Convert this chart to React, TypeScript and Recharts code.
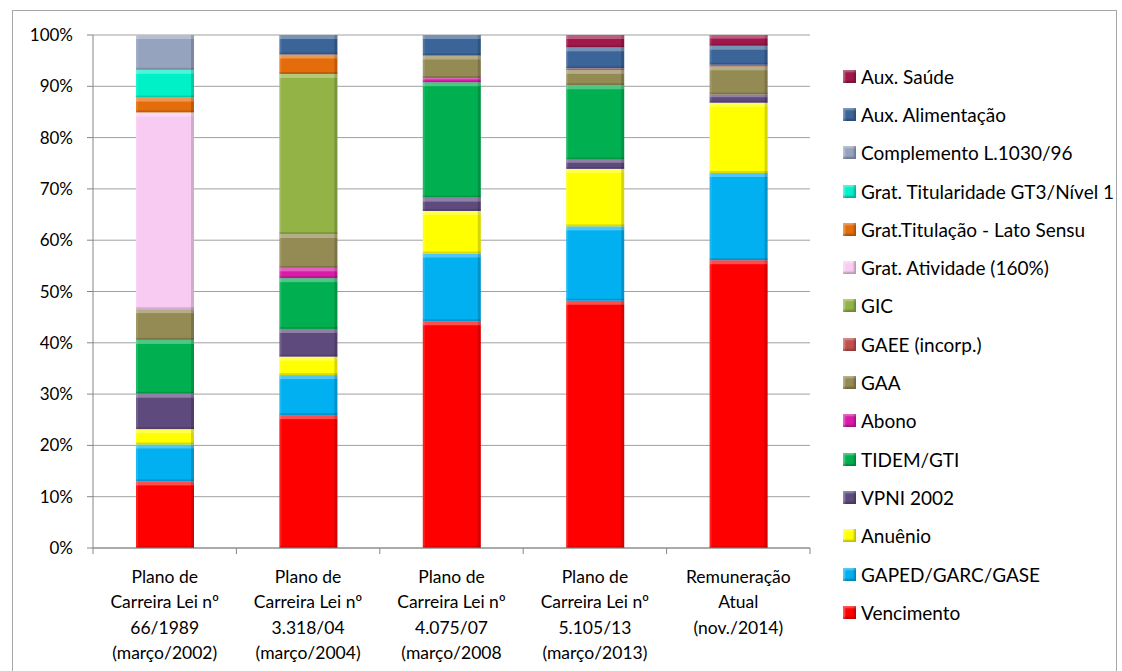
import React from 'react'
import { BarChart, Bar, XAxis, YAxis, CartesianGrid } from 'recharts'

// Categorias (cada linha do rótulo separada por \n)
const categorias = [
  'Plano de\nCarreira Lei nº\n66/1989\n(março/2002)',
  'Plano de\nCarreira Lei nº\n3.318/04\n(março/2004)',
  'Plano de\nCarreira Lei nº\n4.075/07\n(março/2008',
  'Plano de\nCarreira Lei nº\n5.105/13\n(março/2013)',
  'Remuneração\nAtual\n(nov./2014)',
]

// Participação (%) de cada verba na remuneração
const vencimento = [13.0, 25.9, 44.2, 48.2, 56.1]
const gaped = [7.2, 7.8, 13.2, 14.5, 17.0]
const anuenio = [3.0, 3.6, 8.3, 11.2, 13.7]
const vpni = [6.9, 5.4, 2.6, 1.8, 1.6]
const tidem = [10.5, 9.9, 22.5, 14.5, 0]
const abono = [0, 2.0, 0.8, 0, 0]
const gaa = [6.0, 6.6, 4.4, 3.0, 5.5]
const gaee = [0, 0, 0, 0.3, 0.3]
const gic = [0, 31.2, 0, 0, 0]
const gratAtividade = [38.4, 0, 0, 0, 0]
const gratTitulacao = [2.9, 3.8, 0, 0, 0]
const gratTitularidade = [5.4, 0, 0, 0, 0]
const complemento = [6.8, 0, 0, 0, 0]
const auxAlimentacao = [0, 3.8, 4.0, 4.1, 3.7]
const auxSaude = [0, 0, 0, 2.4, 2.1]

const yTicks = [0, 0.1, 0.2, 0.3, 0.4, 0.5, 0.6, 0.7, 0.8, 0.9, 1]

// ordem de empilhamento: de baixo para cima
const series = [
  { key: 'venc', nome: 'Vencimento', cor: '#FF0000', valores: vencimento },
  { key: 'gaped', nome: 'GAPED/GARC/GASE', cor: '#00B0F0', valores: gaped },
  { key: 'anuenio', nome: 'Anuênio', cor: '#FFFF00', valores: anuenio },
  { key: 'vpni', nome: 'VPNI 2002', cor: '#5F4A7E', valores: vpni },
  { key: 'tidem', nome: 'TIDEM/GTI', cor: '#00B050', valores: tidem },
  { key: 'abono', nome: 'Abono', cor: '#D81BA8', valores: abono },
  { key: 'gaa', nome: 'GAA', cor: '#948A54', valores: gaa },
  { key: 'gaee', nome: 'GAEE (incorp.)', cor: '#C0504D', valores: gaee },
  { key: 'gic', nome: 'GIC', cor: '#93B346', valores: gic },
  { key: 'gativ', nome: 'Grat. Atividade (160%)', cor: '#F8CCF2', valores: gratAtividade },
  { key: 'gtitulacao', nome: 'Grat.Titulação - Lato Sensu', cor: '#E46C0A', valores: gratTitulacao },
  { key: 'gtitularidade', nome: 'Grat. Titularidade GT3/Nível 1', cor: '#00F0C8', valores: gratTitularidade },
  { key: 'compl', nome: 'Complemento L.1030/96', cor: '#95A3BF', valores: complemento },
  { key: 'auxalim', nome: 'Aux. Alimentação', cor: '#3B6499', valores: auxAlimentacao },
  { key: 'auxsaude', nome: 'Aux. Saúde', cor: '#A0174A', valores: auxSaude },
]

const data = categorias.map((cat, i) => {
  const row: Record<string, string | number> = { cat }
  series.forEach((s) => (row[s.key] = s.valores[i]))
  return row
})

const FONT = 'Lato, "Open Sans", sans-serif'

// segmento com efeito de relevo (bisel)
function BevelBar(props: any) {
  const { x, y, width, height, fill } = props
  if (!height || height <= 0.5) return null
  const hl = Math.min(4, height / 3)
  const sh = Math.min(2, height / 4)
  return (
    <g>
      <rect x={x} y={y} width={width} height={height} fill={fill} />
      <rect x={x} y={y} width={width} height={hl} fill="#fff" opacity={0.3} />
      <rect x={x} y={y} width={2} height={height} fill="#fff" opacity={0.12} />
      <rect x={x + width - 3} y={y} width={3} height={height} fill="#000" opacity={0.16} />
      <rect x={x} y={y + height - sh} width={width} height={sh} fill="#000" opacity={0.14} />
    </g>
  )
}

function CategoryTick(props: any) {
  const { x, y, payload, index, visibleTicksCount } = props
  const half = payload.offset || 71.7
  const linhas = String(payload.value).split('\n')
  const last = index === visibleTicksCount - 1
  return (
    <g>
      <line x1={x - half} x2={x - half} y1={y} y2={y + 6} stroke="#868686" />
      {last && <line x1={x + half} x2={x + half} y1={y} y2={y + 6} stroke="#868686" />}
      <text x={x} y={y} textAnchor="middle" fontFamily={FONT} fontSize={17.5} fill="#000">
        {linhas.map((l, i) => (
          <tspan key={i} x={x} y={y + 28 + i * 25.5} dominantBaseline="central">
            {l}
          </tspan>
        ))}
      </text>
    </g>
  )
}

function Legenda() {
  return (
    <div
      style={{
        position: 'absolute',
        left: 843,
        top: 57,
        fontFamily: FONT,
        fontSize: 19,
        color: '#000',
      }}
    >
      {[...series].reverse().map((s) => (
        <div key={s.key} style={{ display: 'flex', alignItems: 'center', height: 38.3 }}>
          <span
            style={{
              width: 13,
              height: 13,
              background: s.cor,
              marginRight: 5,
              flexShrink: 0,
              boxShadow: 'inset -2px -2px 2px rgba(0,0,0,0.25), inset 2px 2px 2px rgba(255,255,255,0.35)',
            }}
          />
          <span style={{ whiteSpace: 'nowrap' }}>{s.nome}</span>
        </div>
      ))}
    </div>
  )
}

export default function App() {
  return (
    <div>
      <div
        style={{
          position: 'absolute',
          left: 12,
          top: 10,
          width: 1105,
          height: 700,
          border: '1px solid #A6A6A6',
          boxSizing: 'border-box',
        }}
      />
      <div style={{ position: 'absolute', left: 0, top: 0 }}>
        <BarChart
          width={1122}
          height={671}
          data={data}
          stackOffset="expand"
          margin={{ top: 35, right: 312, left: 0, bottom: 13 }}
        >
          <CartesianGrid vertical={false} stroke="#A0A0A0" />
          <XAxis
            dataKey="cat"
            interval={0}
            height={110}
            tickSize={0}
            tickMargin={0}
            tickLine={false}
            axisLine={{ stroke: '#868686' }}
            tick={<CategoryTick />}
          />
          <YAxis
            width={93}
            domain={[0, 1]}
            ticks={yTicks}
            tickFormatter={(v: number) => `${Math.round(v * 100)}%`}
            tickSize={6}
            tickMargin={14}
            axisLine={{ stroke: '#868686' }}
            tickLine={{ stroke: '#868686' }}
            tick={{ fontFamily: FONT, fontSize: 17, fill: '#000' }}
          />
          {series.map((s) => (
            <Bar
              key={s.key}
              dataKey={s.key}
              name={s.nome}
              stackId="a"
              fill={s.cor}
              barSize={58}
              shape={<BevelBar />}
              isAnimationActive={false}
            />
          ))}
        </BarChart>
      </div>
      <Legenda />
    </div>
  )
}
